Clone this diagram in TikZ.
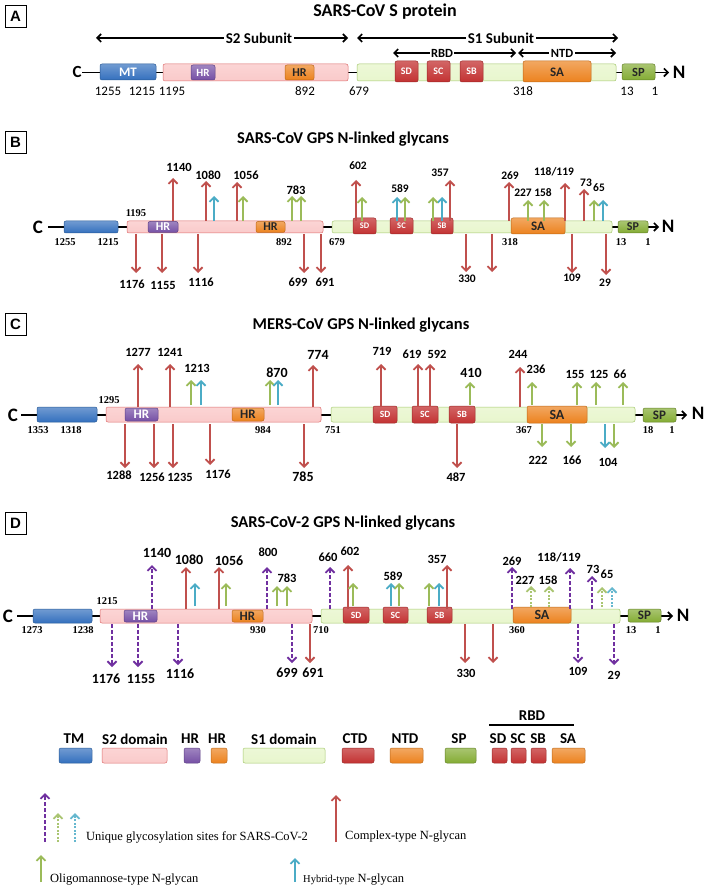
\documentclass[tikz,border=0pt]{standalone}
\usepackage{fontspec}
\setmainfont{Liberation Serif}
\newfontfamily\calf{Carlito}
\newfontfamily\arf{Liberation Sans}
\usetikzlibrary{arrows.meta}
\definecolor{cred}{RGB}{192,80,77}
\definecolor{cgreen}{RGB}{155,187,89}
\definecolor{ccyan}{RGB}{75,172,198}
\definecolor{cpurple}{RGB}{112,48,160}
\definecolor{tmfill}{RGB}{52,112,190}
\definecolor{tmdraw}{RGB}{40,90,150}
\definecolor{pinkfill}{RGB}{250,202,202}
\definecolor{pinkdraw}{RGB}{222,110,110}
\definecolor{sfill}{RGB}{232,246,205}
\definecolor{sdraw}{RGB}{165,200,110}
\definecolor{hrpfill}{RGB}{118,80,165}
\definecolor{hrofill}{RGB}{236,130,30}
\definecolor{domfill}{RGB}{195,50,50}
\definecolor{spfill}{RGB}{132,172,52}
\tikzset{
  bx/.style={rounded corners=2pt, line width=0.5pt},
  tmb/.style={bx, draw=tmdraw, top color=tmfill!70!white, bottom color=tmfill},
  s2b/.style={bx, draw=pinkdraw, top color=pinkfill!80!white, bottom color=pinkfill},
  s1b/.style={bx, draw=sdraw, top color=sfill!80!white, bottom color=sfill},
  hrp/.style={bx, draw=hrpfill!80!black, top color=hrpfill!70!white, bottom color=hrpfill},
  hro/.style={bx, draw=hrofill!80!black, top color=hrofill!70!white, bottom color=hrofill},
  domb/.style={bx, draw=domfill!80!black, top color=domfill!75!white, bottom color=domfill},
  spb/.style={bx, draw=spfill!75!black, top color=spfill!70!white, bottom color=spfill},
  gly/.style={line width=1.8pt, -{Straight Barb[length=4.5pt,width=9pt]}},
  redA/.style={gly, draw=cred},
  greenA/.style={gly, draw=cgreen},
  cyanA/.style={gly, draw=ccyan},
  purA/.style={gly, draw=cpurple, dash pattern=on 4pt off 2pt},
  greenD/.style={gly, draw=cgreen!85, dash pattern=on 2pt off 1.5pt},
  cyanD/.style={gly, draw=ccyan!85, dash pattern=on 2pt off 1.5pt},
  dbl/.style={line width=1.6pt, {Straight Barb[length=4pt,width=8pt]}-{Straight Barb[length=4pt,width=8pt]}},
  bbone/.style={line width=1.6pt, -{Straight Barb[length=4pt,width=8pt]}},
  pbox/.style={draw, line width=0.8pt, minimum width=21pt, minimum height=22pt, inner sep=0pt, font=\arf\bfseries\fontsize{15}{15}\selectfont},
  ttl/.style={inner sep=0pt, font=\calf\bfseries\fontsize{16.5}{17}\selectfont},
  sub/.style={fill=white, inner sep=1.5pt, font=\calf\bfseries\fontsize{15}{15}\selectfont},
  subs/.style={fill=white, inner sep=1.5pt, font=\calf\bfseries\fontsize{12.5}{13}\selectfont},
  bigL/.style={inner sep=0pt, font=\calf\bfseries\fontsize{19}{19}\selectfont},
  anum/.style={inner sep=0pt, font=\calf\fontsize{13}{13}\selectfont},
  snum/.style={inner sep=0pt, font=\bfseries\fontsize{10.5}{11}\selectfont},
  lab/.style={inner sep=0pt, font=\calf\bfseries\fontsize{12.5}{13}\selectfont},
  labs/.style={inner sep=0pt, font=\calf\bfseries\fontsize{11.5}{12}\selectfont},
  labl/.style={inner sep=0pt, font=\calf\bfseries\fontsize{14}{14}\selectfont},
  wt/.style={inner sep=0pt, text=white, font=\calf\bfseries\fontsize{12}{12}\selectfont},
  wts/.style={inner sep=0pt, text=white, font=\calf\bfseries\fontsize{8.5}{9}\selectfont},
  dk/.style={inner sep=0pt, text=black!85, font=\calf\bfseries\fontsize{12}{12}\selectfont},
  leg/.style={inner sep=0pt, font=\calf\bfseries\fontsize{15}{15}\selectfont},
  legt/.style={inner sep=0pt, anchor=west, font=\fontsize{12.5}{13}\selectfont},
}
\begin{document}
\begin{tikzpicture}[x=1pt,y=-1pt]
\useasboundingbox[fill=white] (0,0) rectangle (709,890);

%% ---------------- Panel A ----------------
\node[pbox] (pA) at (15.5,16) {A};
\node[ttl, font=\calf\bfseries\fontsize{18}{18}\selectfont] (tA) at (385,12) {SARS-CoV S protein};
\draw[dbl] (96,38) -- (348,38);
\node[sub] (s2A) at (259,38) {S2 Subunit};
\draw[dbl] (357,38) -- (618,38);
\node[sub] (s1A) at (501,38) {S1 Subunit};
\draw[dbl] (393,53) -- (516,53);
\node[subs] (rbdA) at (442,53) {RBD};
\draw[dbl] (518,53) -- (616,53);
\node[subs] (ntdA) at (562,53) {NTD};
\draw[bbone] (82,72.5) -- (669,72.5);
\node[bigL, font=\calf\bfseries\fontsize{17}{17}\selectfont] (cA) at (77,72) {C};
\node[bigL] (nA) at (679,72) {N};
\draw[tmb] (100,64) rectangle (156,80); \node[wt, font=\calf\bfseries\fontsize{13}{13}\selectfont] (mtA) at (128,72) {MT};
\draw[s2b] (163,64) rectangle (348,81);
\draw[hrp] (191,65) rectangle (215,80); \node[wt, font=\calf\bfseries\fontsize{11}{11}\selectfont] (hr1A) at (203,72.5) {HR};
\draw[hro] (285,65) rectangle (314,80); \node[dk, font=\calf\bfseries\fontsize{12}{12}\selectfont] (hr2A) at (299.5,72.5) {HR};
\draw[s1b] (357,64) rectangle (616,81);
\draw[domb] (395,61) rectangle (418,82); \node[wts, font=\calf\bfseries\fontsize{10}{10}\selectfont] (sdA) at (406.5,71.5) {SD};
\draw[domb] (427,61) rectangle (450,82); \node[wts, font=\calf\bfseries\fontsize{10}{10}\selectfont] (scA) at (438.5,71.5) {SC};
\draw[domb] (460,61) rectangle (483,82); \node[wts, font=\calf\bfseries\fontsize{10}{10}\selectfont] (sbA) at (471.5,71.5) {SB};
\draw[hro] (523,61) rectangle (591,82); \node[dk, font=\calf\bfseries\fontsize{13}{13}\selectfont] (saA) at (557,72) {SA};
\draw[spb] (622,64) rectangle (655,80); \node[dk, font=\calf\bfseries\fontsize{12.5}{12.5}\selectfont] (spA) at (638.5,72) {SP};
\foreach \x/\s [count=\i] in {108/1255,142/1215,172/1195,305/892,359/679,523/318,627/13,655/1}
  \node[anum] (aN\i) at (\x,91.5) {\s};

%% ---------------- Panel B ----------------
\node[pbox] (pB) at (15.5,142.5) {B};
\node[ttl] (tB) at (343,139) {SARS-CoV GPS N-linked glycans};
\draw[bbone] (48,227) -- (659,227);
\node[bigL] (cB) at (38,227) {C};
\node[bigL] (nB) at (668,226) {N};
\draw[tmb] (64,221) rectangle (118,233);
\draw[s2b] (127,221) rectangle (323,233);
\draw[hrp] (148,221.5) rectangle (178,232.5); \node[wt] (hr1B) at (163,227) {HR};
\draw[hro] (256,221.5) rectangle (285,232.5); \node[dk] (hr2B) at (270.5,227) {HR};
\draw[s1b] (332,221) rectangle (612,233);
\draw[domb] (353,218) rectangle (376,234); \node[wts] (sdB) at (364.5,226) {SD};
\draw[domb] (390,218) rectangle (413,234); \node[wts] (scB) at (401.5,226) {SC};
\draw[domb] (431,218) rectangle (453,234); \node[wts] (sbB) at (442,226) {SB};
\draw[hro] (511,218) rectangle (565,234); \node[dk, font=\calf\bfseries\fontsize{13}{13}\selectfont] (saB) at (538,226) {SA};
\draw[spb] (618,221) rectangle (648,233); \node[dk] (spB) at (633,227) {SP};
\foreach \x/\y/\s [count=\i] in {65/242/1255,108/242/1215,136/213/1195,284/242/892,337/242/679,510/242/318,621/242/13,648/242/1}
  \node[snum] (bN\i) at (\x,\y) {\s};
% up arrows
\foreach \x/\t in {173/178,206/181,237/182,356/180,450/180,509/182,565/183,584/189}
  \draw[redA] (\x,221) -- (\x,\t);
\foreach \x/\t in {214/196,397/197,442/197,603/200}
  \draw[cyanA] (\x,221) -- (\x,\t);
\foreach \x/\t in {243/196,292/196,301/196,362/197,405/197,433/197,528/200,544/200,594/200}
  \draw[greenA] (\x,221) -- (\x,\t);
% down arrows
\foreach \x/\t in {136/273,162/273,198/273,304/273,321/273,466/272,492/272,572/273,606/275}
  \draw[redA] (\x,234) -- (\x,\t);
\foreach \x/\y/\s [count=\i] in {179/167/1140,208/175/1080,246/175/1056,296/190/783,132/284/1176,163/285/1155,201/282/1116,298/282/699,325/282/691}
  \node[lab] (bL\i) at (\x,\y) {\s};
\foreach \x/\y/\s [count=\i] in {358/166/602,400/189/589,440/173/357,510/176/269,523/193/227,543/193/158,586/183/73,599/188/65,467/279/330,572/278/109,605/283/29}
  \node[labs] (bR\i) at (\x,\y) {\s};
\node[labs] (bR0) at (554,172) {118/119};

%% ---------------- Panel C ----------------
\node[pbox] (pC) at (15.5,324) {C};
\node[ttl] (tC) at (361,325) {MERS-CoV GPS N-linked glycans};
\draw[bbone] (21,415) -- (687,415);
\node[bigL] (cC) at (13,415) {C};
\node[bigL] (nC) at (698,413) {N};
\draw[tmb] (37,407) rectangle (97,422);
\draw[s2b] (106,407) rectangle (321,422);
\draw[hrp] (125,408) rectangle (158,421); \node[wt, font=\calf\bfseries\fontsize{13}{13}\selectfont] (hr1C) at (141.5,414.5) {HR};
\draw[hro] (232,408) rectangle (264,421); \node[dk, font=\calf\bfseries\fontsize{13}{13}\selectfont] (hr2C) at (248,414.5) {HR};
\draw[s1b] (331,407) rectangle (635,422);
\draw[domb] (373,406) rectangle (397,423); \node[wts, font=\calf\bfseries\fontsize{9.5}{10}\selectfont] (sdC) at (385,414.5) {SD};
\draw[domb] (412,406) rectangle (438,423); \node[wts, font=\calf\bfseries\fontsize{9.5}{10}\selectfont] (scC) at (425,414.5) {SC};
\draw[domb] (449,406) rectangle (475,423); \node[wts, font=\calf\bfseries\fontsize{9.5}{10}\selectfont] (sbC) at (462,414.5) {SB};
\draw[hro] (527,406) rectangle (587,423); \node[dk, font=\calf\bfseries\fontsize{14}{14}\selectfont] (saC) at (557,414.5) {SA};
\draw[spb] (643,408) rectangle (676,422); \node[dk, font=\calf\bfseries\fontsize{13}{13}\selectfont] (spC) at (659.5,415) {SP};
\foreach \x/\y/\s [count=\i] in {38/430/1353,71/430/1318,109/400/1295,263/430/984,333/430/751,524/430/367,648/430/18,672/430/1}
  \node[snum] (cN\i) at (\x,\y) {\s};
\foreach \x/\t in {138/364,170/364,313/365,381/364,418/364,430/364,520/367}
  \draw[redA] (\x,407) -- (\x,\t);
\foreach \x/\t in {191/380,270/380,470/382,532/382,577/382,596/382,623/382}
  \draw[greenA] (\x,405) -- (\x,\t);
\foreach \x/\t in {201/380,278/380}
  \draw[cyanA] (\x,405) -- (\x,\t);
\foreach \x/\t in {125/468,154/468,173/468,210/465,304/468,457/468}
  \draw[redA] (\x,424) -- (\x,\t);
\foreach \x/\t in {542/447,571/447,614/448}
  \draw[greenA] (\x,424) -- (\x,\t);
\draw[cyanA] (605,424) -- (605,448);
\foreach \x/\y/\s [count=\i] in {138/352/1277,170/352/1241,197/368/1213,382/351/719,412/354/619,437/354/592,518/354/244,536/369/236,575/374/155,599/374/125,620/374/66,119/475/1288,152/477/1256,180/477/1235,218/474/1176,456/477/487,538/460/222,572/460/166,608/462/104}
  \node[lab] (cL\i) at (\x,\y) {\s};
\foreach \x/\y/\s [count=\i] in {277/373/870,318/355/774,471/373/410,303/477/785}
  \node[labl] (cB\i) at (\x,\y) {\s};

%% ---------------- Panel D ----------------
\node[pbox] (pD) at (15.5,523) {D};
\node[ttl] (tD) at (343,523) {SARS-CoV-2 GPS N-linked glycans};
\draw[bbone] (17,616) -- (673,616);
\node[bigL] (cD) at (8,616) {C};
\node[bigL] (nD) at (683,615) {N};
\draw[tmb] (33,609) rectangle (92,623);
\draw[s2b] (100,609) rectangle (312,623);
\draw[hrp] (124,610) rectangle (157,622); \node[wt, font=\calf\bfseries\fontsize{13}{13}\selectfont] (hr1D) at (140.5,616) {HR};
\draw[hro] (232,610) rectangle (263,622); \node[dk, font=\calf\bfseries\fontsize{13}{13}\selectfont] (hr2D) at (247.5,616) {HR};
\draw[s1b] (321,609) rectangle (620,623);
\draw[domb] (343,607) rectangle (369,623); \node[wts, font=\calf\bfseries\fontsize{9.5}{10}\selectfont] (sdD) at (356,615) {SD};
\draw[domb] (383,607) rectangle (408,623); \node[wts, font=\calf\bfseries\fontsize{9.5}{10}\selectfont] (scD) at (395.5,615) {SC};
\draw[domb] (427,607) rectangle (452,623); \node[wts, font=\calf\bfseries\fontsize{9.5}{10}\selectfont] (sbD) at (439.5,615) {SB};
\draw[hro] (513,607) rectangle (571,623); \node[dk, font=\calf\bfseries\fontsize{14}{14}\selectfont] (saD) at (542,615) {SA};
\draw[spb] (628,609) rectangle (661,622); \node[dk, font=\calf\bfseries\fontsize{13}{13}\selectfont] (spD) at (644.5,615.5) {SP};
\foreach \x/\y/\s [count=\i] in {32/630/1273,83/630/1238,107/601/1215,258/630/930,321/630/710,517/630/360,631/630/13,658/630/1}
  \node[snum] (dN\i) at (\x,\y) {\s};
\foreach \x/\t in {152/565,267/567,330/567,512/567,570/568,592/576}
  \draw[purA] (\x,609) -- (\x,\t);
\foreach \x/\t in {186/567,219/567,348/565,447/565}
  \draw[redA] (\x,609) -- (\x,\t);
\foreach \x/\t in {195/583,391/583,439/583}
  \draw[cyanA] (\x,606) -- (\x,\t);
\foreach \x/\t in {226/583,277/586,287/586,353/583,399/583,429/583}
  \draw[greenA] (\x,606) -- (\x,\t);
\foreach \x/\t in {531/586,549/586,602/587}
  \draw[greenD] (\x,607) -- (\x,\t);
\draw[cyanD] (612,607) -- (612,587);
\foreach \x/\t in {112/667,138/667,178/665,292/663,578/663,614/665}
  \draw[purA] (\x,624) -- (\x,\t);
\foreach \x/\t in {310/663,465/663,493/663}
  \draw[redA] (\x,624) -- (\x,\t);
\foreach \x/\y/\s [count=\i] in {157/553/1140,189/560/1080,229/561/1056,106/679/1176,141/679/1155,180/674/1116,287/673/699,313/673/691}
  \node[labl] (dL\i) at (\x,\y) {\s};
\foreach \x/\y/\s [count=\i] in {268/552/800,287/578/783,328/557/660,350/551/602,393/576/589,437/559/357,512/561/269,525/580/227,548/580/158,593/569/73,607/574/65,466/673/330,578/671/109,614/675/29}
  \node[lab] (dR\i) at (\x,\y) {\s};
\node[lab] (dR0) at (559,557) {118/119};

%% ---------------- Legend ----------------
\draw[tmb] (59,748) rectangle (92,763);   \node[leg] (lg1) at (74,739) {TM};
\draw[s2b] (102,748) rectangle (167,763); \node[leg] (lg2) at (135,739) {S2 domain};
\draw[hrp] (184,748) rectangle (200,763); \node[leg] (lg3) at (190,739) {HR};
\draw[hro] (211,748) rectangle (227,763); \node[leg] (lg4) at (217,739) {HR};
\draw[s1b] (243,748) rectangle (325,763); \node[leg] (lg5) at (284,739) {S1 domain};
\draw[domb] (342,748) rectangle (374,763); \node[leg] (lg6) at (355,739) {CTD};
\draw[hro] (390,748) rectangle (423,763); \node[leg] (lg7) at (405,739) {NTD};
\draw[spb] (445,748) rectangle (476,763); \node[leg] (lg8) at (459,739) {SP};
\draw[domb] (492,748) rectangle (507,763); \node[leg] (lg9) at (498,739) {SD};
\draw[domb] (511,748) rectangle (526,763); \node[leg] (lg10) at (518,739) {SC};
\draw[domb] (531,748) rectangle (546,763); \node[leg] (lg11) at (538,739) {SB};
\draw[hro] (552,748) rectangle (585,763); \node[leg] (lg12) at (568,739) {SA};
\draw[line width=1.5pt] (489,725) -- (574,725);
\node[leg] (lgR) at (532,716) {RBD};

\draw[purA] (45,842) -- (45,793);
\draw[greenD] (58,842) -- (58,813);
\draw[cyanD] (75,842) -- (75,813);
\node[legt] (lt1) at (86,837) {Unique glycosylation sites for SARS-CoV-2};
\draw[redA] (336,842) -- (336,795);
\node[legt] (lt2) at (345,837) {Complex-type N-glycan};
\draw[greenA] (41,882) -- (41,855);
\node[legt] (lt3) at (50,880) {Oligomannose-type N-glycan};
\draw[cyanA] (295,882) -- (295,858);
\node[legt] (lt4) at (303,880) {{\fontsize{10.5}{10.5}\selectfont Hybrid-type} N-glycan};
\end{tikzpicture}
\end{document}
